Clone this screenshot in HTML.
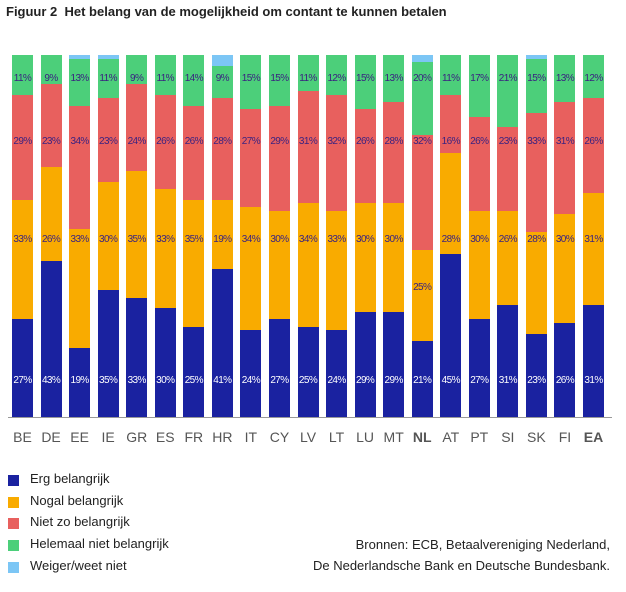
<!DOCTYPE html>
<html><head><meta charset="utf-8"><style>
body{margin:0;width:626px;height:592px;background:#fff;position:relative;font-family:"Liberation Sans",sans-serif;overflow:hidden}
.t{position:absolute;left:6px;top:4px;font-size:13px;font-weight:bold;color:#222}
.bar{position:absolute;top:55px;width:21px;height:362px;background:#7cc6f5;overflow:hidden;display:flex;flex-direction:column-reverse}
.bar div{flex:none}
.l{position:absolute;width:30px;text-align:center;font-size:10px;color:#3a2280;letter-spacing:-0.6px}
.w{color:#fff}
.c{position:absolute;top:429px;width:30px;text-align:center;font-size:14px;color:#555}
.ax{position:absolute;left:8px;top:417px;width:604px;height:1px;background:#999}
.lg{position:absolute;left:8px;width:11px;height:11px}
.lt{position:absolute;left:30px;font-size:13px;color:#222}
.src{position:absolute;right:16px;font-size:13px;color:#222;text-align:right}
</style></head><body>
<div class="t">Figuur 2&nbsp; Het belang van de mogelijkheid om contant te kunnen betalen</div>
<div id="c"></div>
<div class="ax"></div>
<div class="lg" style="top:475px;background:#1a22a0"></div><div class="lt" style="top:471px">Erg belangrijk</div>
<div class="lg" style="top:497px;background:#f9ab00"></div><div class="lt" style="top:493px">Nogal belangrijk</div>
<div class="lg" style="top:518px;background:#e8605e"></div><div class="lt" style="top:514px">Niet zo belangrijk</div>
<div class="lg" style="top:540px;background:#4ccf7a"></div><div class="lt" style="top:536px">Helemaal niet belangrijk</div>
<div class="lg" style="top:562px;background:#7cc6f5"></div><div class="lt" style="top:558px">Weiger/weet niet</div>
<div class="src" style="top:537px">Bronnen: ECB, Betaalvereniging Nederland,</div>
<div class="src" style="top:558px">De Nederlandsche Bank en Deutsche Bundesbank.</div>
<script>
var cols=["#1a22a0","#f9ab00","#e8605e","#4ccf7a"],h="";
var data=[["BE",27,33,29,11],["DE",43,26,23,9],["EE",19,33,34,13],["IE",35,30,23,11],["GR",33,35,24,9],["ES",30,33,26,11],["FR",25,35,26,14],["HR",41,19,28,9],["IT",24,34,27,15],["CY",27,30,29,15],["LV",25,34,31,11],["LT",24,33,32,12],["LU",29,30,26,15],["MT",29,30,28,13],["NL",21,25,32,20],["AT",45,28,16,11],["PT",27,30,26,17],["SI",31,26,23,21],["SK",23,28,33,15],["FI",26,30,31,13],["EA",31,31,26,12]];
var n=data.length,pitch=(583-12)/(n-1);
data.forEach(function(r,i){
 var x=12+i*pitch;
 h+='<div class="bar" style="left:'+x+'px">';
 for(var k=0;k<4;k++)h+='<div style="height:'+(r[k+1]*3.62)+'px;background:'+cols[k]+'"></div>';
 h+='</div>';
 var cx=x-4.5,ys=[375,234,136,73];
 if(r[0]=="NL")ys[1]=282;
 for(var k=0;k<4;k++)h+='<div class="l'+(k==0?' w':'')+'" style="left:'+cx+'px;top:'+ys[k]+'px">'+r[k+1]+'%</div>';
 h+='<div class="c" style="left:'+cx+'px;'+((r[0]=="NL"||r[0]=="EA")?'font-weight:bold;':'')+'">'+r[0]+'</div>';
});
document.getElementById("c").innerHTML=h;
</script>
</body></html>
